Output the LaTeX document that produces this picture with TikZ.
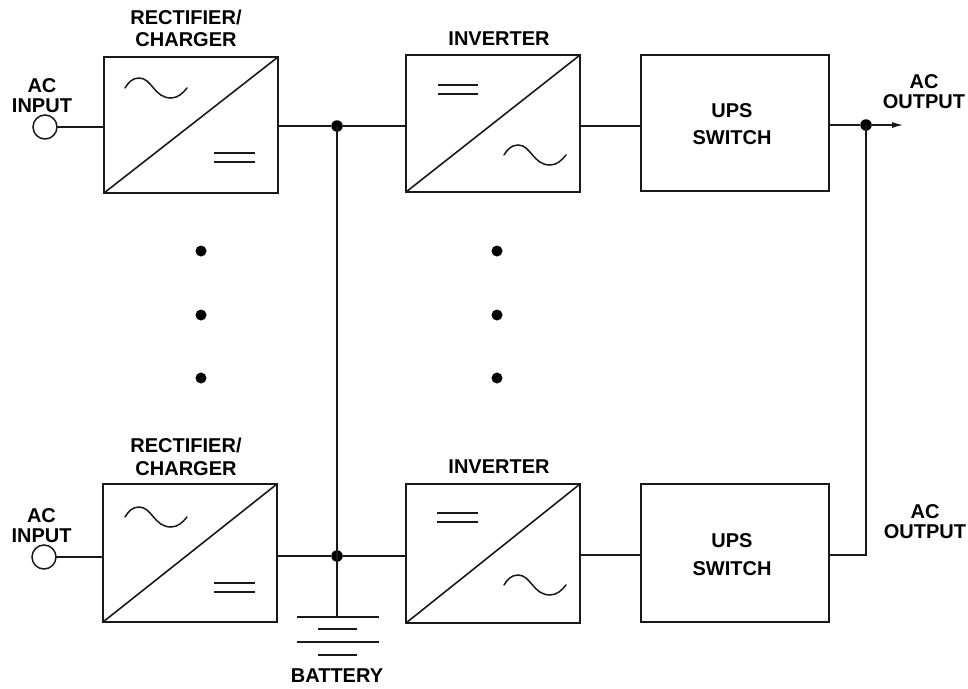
\documentclass[tikz,border=0pt]{standalone}
\usepackage{fontspec}
\setmainfont{Liberation Sans}
\usetikzlibrary{arrows.meta}
\begin{document}
\begin{tikzpicture}[x=1pt,y=-1pt,
  wire/.style={line width=1.6pt,black!90},
  conv/.style={draw=black!90,line width=1.8pt,minimum width=174pt,minimum height=137pt,inner sep=0pt,anchor=north west,outer sep=0pt},
  upsbox/.style={draw=black!90,line width=1.8pt,minimum width=188pt,minimum height=137pt,inner sep=0pt,anchor=north west,outer sep=0pt},
  lbl/.style={align=center,inner sep=0pt,font=\fontsize{20}{22.5}\selectfont\bfseries},
  tightlbl/.style={lbl,font=\fontsize{20}{20}\selectfont\bfseries},
  term/.style={circle,draw=black!90,line width=1.5pt,minimum size=24pt,inner sep=0pt,outer sep=0pt},
  junc/.style={circle,fill=black,minimum size=11.5pt,inner sep=0pt,outer sep=0pt},
  bigdot/.style={circle,fill=black,minimum size=11pt,inner sep=0pt},
  sym/.style={line width=1.4pt,black!90},
  sine/.style={line width=1.5pt,black!90,line cap=round},
  acwave/.pic={\draw[sine] (0,0) .. controls (3,-5) and (7,-10) .. (14,-10) .. controls (27,-10) and (29,10) .. (46,10) .. controls (53,10) and (58,5) .. (62,0);}]
\useasboundingbox (0,0) rectangle (968,688);
% boxes
\node[conv,minimum height=136pt] (r1) at (104,57) {};
\node[conv,minimum height=138pt] (r2) at (103,484) {};
\node[conv] (i1) at (406,55) {};
\node[conv,minimum height=139pt] (i2) at (406,484) {};
\node[upsbox,minimum height=136pt] (u1) at (641,55) {};
\node[upsbox,minimum height=138pt] (u2) at (641,484) {};
% labels
\node[lbl] (lr1) at (186,28.5) {RECTIFIER/\\CHARGER};
\node[lbl] (lr2) at (186,457) {RECTIFIER/\\CHARGER};
\node[lbl] (li1) at (499,39) {INVERTER};
\node[lbl] (li2) at (499,467) {INVERTER};
\node[lbl] (lu1) at (732,124.5) {UPS\\[4.5pt]SWITCH};
\node[lbl] (lu2) at (732,555) {UPS\\[5.5pt]SWITCH};
\node[tightlbl] (la1) at (42,96) {AC\\INPUT};
\node[tightlbl] (la2) at (41.5,525.5) {AC\\INPUT};
\node[tightlbl] (lo1) at (924,92) {AC\\OUTPUT};
\node[tightlbl] (lo2) at (925,522) {AC\\OUTPUT};
\node[lbl] (lb) at (337,676) {BATTERY};
% diagonals
\foreach \b in {r1,r2,i1,i2} \draw[line width=1.6pt,black!90] (\b.south west) -- (\b.north east);
% converter symbols
\pic at (125,88) {acwave};
\pic at (125,517) {acwave};
\pic at (504,155) {acwave};
\pic at (504,585) {acwave};
\draw[sym] (214,153) -- (255,153) (214,162) -- (255,162);
\draw[sym] (214,583) -- (255,583) (214,592) -- (255,592);
\draw[sym] (438,85) -- (478,85) (438,94) -- (478,94);
\draw[sym] (437,513) -- (478,513) (437,522) -- (478,522);
% terminals, junctions
\node[term] (t1) at (45,127) {};
\node[term] (t2) at (44,557) {};
\node[junc] (j1) at (337,126) {};
\node[junc] (j2) at (337,556) {};
\node[junc] (j3) at (866,125) {};
\coordinate (corner) at (866,555);
\coordinate (out) at (903,125);
% parallel-module dots
\foreach \n/\x/\y in {a/201/251,b/201/315,c/201/378,d/497/251,e/497/315,f/497/378}
  \node[bigdot] (d\n) at (\x,\y) {};
% battery
\coordinate (b1l) at (297,617); \coordinate (b1r) at (379,617); \coordinate (b1c) at (337,617);
\coordinate (b2l) at (318,629); \coordinate (b2r) at (357,629);
\coordinate (b3l) at (297,642); \coordinate (b3r) at (379,642);
\coordinate (b4l) at (318,655); \coordinate (b4r) at (357,655);
\foreach \a/\c in {b1l/b1r,b2l/b2r,b3l/b3r,b4l/b4r} \draw[line width=1.5pt,black!90] (\a) -- (\c);
% connectors
\draw[wire] (t1) -- (t1 -| r1.west);
\draw[wire] (t2) -- (t2 -| r2.west);
\draw[wire] (j1 -| r1.east) -- (j1);
\draw[wire] (j1) -- (j1 -| i1.west);
\draw[wire] (j2 -| r2.east) -- (j2);
\draw[wire] (j2) -- (j2 -| i2.west);
\draw[wire] (j1.center) -- (j2.center);
\draw[wire] (j2.center) -- (b1c);
\draw[wire] (j1 -| i1.east) -- (j1 -| u1.west);
\draw[wire] (corner -| i2.east) -- (corner -| u2.west);
\draw[wire] (j3 -| u1.east) -- (j3);
\draw[wire] (j3.center) -- (corner) -- (corner -| u2.east);
\draw[wire,line width=1.1pt,-{Latex[length=11pt,width=6pt]}] (j3) -- (out);
\end{tikzpicture}
\end{document}
